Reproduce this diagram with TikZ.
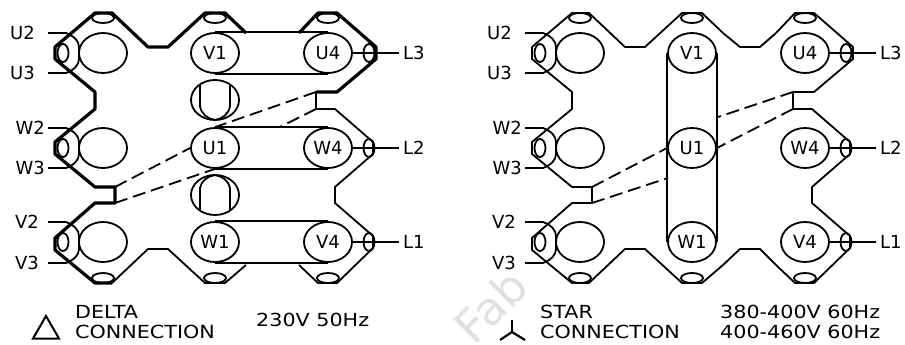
\documentclass[tikz,border=0pt]{standalone}
\usepackage{fontspec}
\setmainfont{DejaVu Sans}
\newfontfamily\capfont[FakeStretch=1.15]{DejaVu Sans}
\usetikzlibrary{shapes.geometric}
\tikzset{
	boldwire/.style={line width=1.8pt},
	wire/.style={line width=1.8pt},
	term/.style={ellipse,draw,line width=1.8pt,minimum width=48pt,minimum height=40pt,inner sep=0pt,font=\fontsize{18}{18}\selectfont},
	pinh/.style={ellipse,draw,line width=1.8pt,minimum width=22pt,minimum height=10pt,inner sep=0pt},
	pinv/.style={ellipse,draw,line width=1.8pt,minimum width=11pt,minimum height=18pt,inner sep=0pt},
	tag/.style={inner sep=0pt,font=\fontsize{18}{18}\selectfont},
	captext/.style={inner sep=0pt,anchor=west,font=\capfont\fontsize{18}{18}\selectfont},
	jumper/.style={wire,dash pattern=on 13pt off 6pt}
}
% frame, terminals and labels shared by both connections
\newcommand{\motorbox}{
	\node [term] (t1) at (103,53) {};
	\node [term] (v1) at (215,53) {V1};
	\node [term] (u4) at (328,53) {U4};
	\node [term] (t2) at (103,148) {};
	\node [term] (u1) at (215,148) {U1};
	\node [term] (w4) at (328,148) {W4};
	\node [term] (t3) at (103,242) {};
	\node [term] (w1) at (215,242) {W1};
	\node [term] (v4) at (328,242) {V4};
	\foreach \px/\pn in {103/a,215/b,328/c} {
		\node [pinh] (top\pn) at (\px,18) {};
		\node [pinh] (bot\pn) at (\px,278) {};
	}
	\foreach \py/\pn in {53/a,148/b,242/c} {
		\node [pinv] (lft\pn) at (63,\py) {};
		\node [pinv] (rgt\pn) at (369,\py) {};
	}
	\node [tag,anchor=east] (u2) at (35,33) {U2};
	\node [tag,anchor=east] (u3) at (35,73) {U3};
	\node [tag,anchor=east] (w2) at (45,128) {W2};
	\node [tag,anchor=east] (w3) at (45,168) {W3};
	\node [tag,anchor=east] (v2) at (39,222) {V2};
	\node [tag,anchor=east] (v3) at (39,263) {V3};
	\node [tag,anchor=west] (l3) at (403,53) {L3};
	\node [tag,anchor=west] (l2) at (403,148) {L2};
	\node [tag,anchor=west] (l1) at (403,242) {L1};
	% coils round the left pins
	\foreach \ya/\yb in {33/73,128/168,222/263} {
		\coordinate (cs) at (48,\ya);
		\coordinate (ce) at (48,\yb);
		\draw [wire] (cs) -- (66,\ya) .. controls (74,\ya+3) and (79,\ya+8) .. (79,\ya+14)
			-- (79,\yb-14) .. controls (79,\yb-8) and (74,\yb-3) .. (66,\yb) -- (ce);
	}
	\draw [wire,shorten >=4pt] (u4.east) -- (l3.west);
	\draw [wire,shorten >=4pt] (w4.east) -- (l2.west);
	\draw [wire,shorten >=4pt] (v4.east) -- (l1.west);
	% outer frame
	\draw [boldwire,line join=round] (246,33) -- (225,13) -- (205,13) -- (168,47) -- (148,47) -- (112,13) -- (95,13) -- (55,47) -- (55,59)
		-- (95,92) -- (95,109) -- (55,142) -- (55,154) -- (95,187) -- (115,187) -- (115,203) -- (95,203)
		-- (55,238) -- (55,250) -- (95,283) -- (112,283);
	\draw [wire,line join=round] (112,283) -- (148,249) -- (168,249) -- (205,283) -- (225,283) -- (246,265);
	\draw [boldwire,line join=round] (299,33) -- (318,13) -- (337,13) -- (376,47) -- (376,59) -- (337,92) -- (316,92);
	\draw [wire,line join=round] (316,92) -- (316,109) -- (335,109) -- (373,142) -- (373,154) -- (335,187) -- (335,203)
		-- (373,236) -- (373,248) -- (337,283) -- (318,283) -- (299,265);
	\coordinate (jta) at (316,92);
	\coordinate (jtb) at (316,109);
	\coordinate (jba) at (115,187);
	\coordinate (jbb) at (115,203);
}
\begin{document}
\begin{tikzpicture}[x=1pt,y=-1pt]
	\useasboundingbox (0,0) rectangle (905,345);
	% faint stamp
	\node [rotate=45,text=black!12,inner sep=0pt,font=\fontsize{46}{46}\selectfont] (stamp) at (491,306) {Fab};
	% delta
	\begin{scope}[boldwire/.style={line width=3.2pt}]
		\motorbox
		\draw [wire] (v1.north) -- (u4.north);
		\draw [wire] (v1.south) -- (u4.south);
		\draw [wire] (u1.north) -- (w4.north);
		\draw [wire] (u1.south) -- (w4.south);
		\draw [wire] (w1.north) -- (v4.north);
		\draw [wire] (w1.south) -- (v4.south);
		\node [term] (bra) at (215,100) {};
		\node [term] (brb) at (215,195) {};
		\draw [wire] (200,85) -- (200,106) .. controls (201,114) and (208,119) .. (215,120) .. controls (222,119) and (229,114) .. (230,106) -- (230,85);
		\draw [wire] (200,211) -- (200,188) .. controls (201,181) and (208,176) .. (215,175) .. controls (222,176) and (229,181) .. (230,188) -- (230,211);
		\draw [jumper] (jta) -- (u1.north);
		\draw [jumper] (jtb) -- (280,127);
		\draw [jumper] (jba) -- (u1.west);
		\draw [jumper] (jbb) -- (u1.south);
		\node [regular polygon,regular polygon sides=3,draw,line width=2pt,minimum size=30pt,inner sep=0pt] (delta) at (46,331) {};
		\node [captext] (dtop) at (75,312) {DELTA};
		\node [captext] (dbot) at (75,332) {CONNECTION};
		\node [captext] (dvolt) at (256,320) {230V 50Hz};
	\end{scope}
	% star
	\begin{scope}[xshift=477pt]
		\motorbox
		\draw [wire,line join=round] (246,33) -- (263,47) -- (283,47) -- (299,33);
		\draw [wire,line join=round] (246,265) -- (263,249) -- (283,249) -- (299,265);
		\draw [wire] (v1.west) -- (w1.west);
		\draw [wire] (v1.east) -- (w1.east);
		\draw [jumper] (jta) -- (241,117);
		\draw [jumper] (jtb) -- (u1.east);
		\draw [jumper] (jba) -- (u1.west);
		\draw [jumper] (jbb) -- (191,178);
		\coordinate (hub) at (35,332);
		\draw [wire,line width=2.2pt] (hub) -- (35,320);
		\draw [wire,line width=2.2pt] (hub) -- (23,340);
		\draw [wire,line width=2.2pt] (hub) -- (48,340);
		\node [captext] (stop) at (63,312) {STAR};
		\node [captext] (sbot) at (63,332) {CONNECTION};
		\node [captext] (svolta) at (243,312) {380-400V 60Hz};
		\node [captext] (svoltb) at (243,332) {400-460V 60Hz};
	\end{scope}
\end{tikzpicture}
\end{document}
